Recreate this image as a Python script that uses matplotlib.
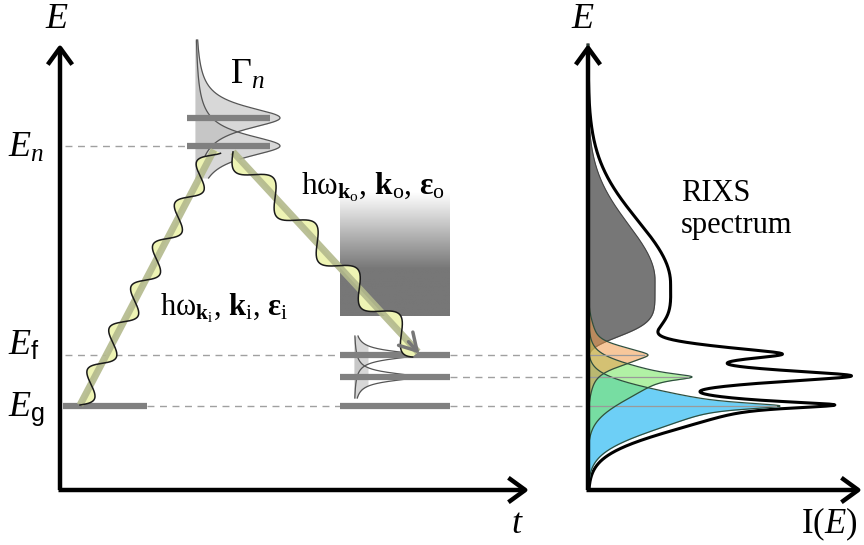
import numpy as np
import matplotlib
matplotlib.use("Agg")
import matplotlib.pyplot as plt
from matplotlib.patches import FancyArrowPatch
from matplotlib.colors import LinearSegmentedColormap

plt.rcParams["mathtext.fontset"] = "custom"
plt.rcParams["mathtext.rm"] = "Liberation Serif"
plt.rcParams["mathtext.it"] = "Liberation Serif:italic"
plt.rcParams["mathtext.bf"] = "Liberation Serif:bold"
plt.rcParams["mathtext.sf"] = "Liberation Sans"
plt.rcParams["font.family"] = ["Liberation Serif", "DejaVu Serif"]

# ---- energy levels (arbitrary units above the ground state) ----
E_ground = 0.0
E_low = 0.57          # low-lying excitation
E_final = 1.0         # final state E_f
E_inter = [5.1, 5.65] # intermediate (core-hole) states E_n

# ---- RIXS spectrum: inelastic peaks at the final-state energies ----
peak_energy = [E_final, E_low, E_ground]
peak_height = [48, 95, 192]
peak_w_up = [11, 17, 23]
peak_w_dn = [14, 32, 34]
peak_sharp = [0.2, 0.45, 0.45]
peak_tail = [12, 9, 0]
peak_colors = ["#f29a4a", "#7ee86a", "#6dcff6"]
peak_alpha = [0.55, 0.6, 1.0]

# measured envelope
envelope_height = [159, 254, 243]
envelope_w_up = [12, 12, 14]
envelope_w_dn = [10, 13, 36]
envelope_sharp = [0.3, 0.3, 0.45]
envelope_ws = [5.0, 5.0, 4.0]
fluor_center = 2.415   # broad fluorescence-like background
fluor_height = 67
env_fluor_height = 82

Y0, PX_PER_E = 406.0, 51.0
def ey(e):
    return Y0 - PX_PER_E * np.asarray(e)

fig = plt.figure(figsize=(8.64, 5.45), dpi=100)
ax = fig.add_axes([0, 0, 1, 1])
ax.set_xlim(0, 864)
ax.set_ylim(545, 0)
ax.axis("off")

GRAY = "#808080"
DASH = "#a0a0a0"

def arrow_axis(p0, p1):
    a = FancyArrowPatch(p0, p1, arrowstyle="->,head_length=0.55,head_width=0.4",
                        mutation_scale=22, lw=3.2, color="black",
                        shrinkA=0, shrinkB=0, zorder=10, capstyle="butt")
    ax.add_patch(a)

# ---------------- left panel: energy vs time ----------------
arrow_axis((60, 490), (60, 44))
arrow_axis((58.5, 490), (529, 490))

ax.plot([65, 190], [ey(E_inter[0])] * 2, ls=(0, (5, 4)), color=DASH, lw=1)
ax.plot([65, 340], [ey(E_final)] * 2, ls=(0, (5, 4)), color=DASH, lw=1)
ax.plot([147, 340], [ey(E_ground)] * 2, ls=(0, (5, 4)), color=DASH, lw=1)
for e in [E_final, E_low, E_ground]:
    ax.plot([450, 588], [ey(e)] * 2, ls=(0, (5, 4)), color=DASH, lw=1)

# continuum of outgoing photon energies
grad_y = np.linspace(0, 1, 200)
grad = np.clip(grad_y / 0.62, 0, 1)[:, None]
gcm = LinearSegmentedColormap.from_list("g", ["#ffffff", "#777777"])
ax.imshow(grad, extent=(340, 450, 316, 192), cmap=gcm, aspect="auto",
          vmin=0, vmax=1, zorder=1)

# intermediate-state Lorentzians (lifetime broadening Gamma_n)
yy = np.linspace(40, 178, 400)
for e in E_inter:
    y0 = ey(e)
    prof = 85 / (1 + ((yy - y0) / 14) ** 2)
    ax.fill_betweenx(yy, 195, 195 + prof, color="#b8b8b8", alpha=0.55, lw=0, zorder=2)
    ax.plot(195 + prof, yy, color="#555555", lw=0.9, zorder=3)

# final-state Lorentzians
yy2 = np.linspace(336, 398, 300)
for e in [E_final, E_low]:
    y0 = ey(e)
    prof = 62 / (1 + ((yy2 - y0) / 5) ** 2)
    ax.fill_betweenx(yy2, 354, 354 + np.minimum(prof, 14), color="#bdbdbd", alpha=0.6, lw=0, zorder=2)
    ax.plot(354 + prof, yy2, color="#555555", lw=0.9, zorder=3)

# level bars
ax.plot([63, 147], [ey(E_ground)] * 2, color=GRAY, lw=4.5, solid_capstyle="butt", zorder=4)
for e in E_inter:
    ax.plot([187, 270], [ey(e)] * 2, color=GRAY, lw=4.5, solid_capstyle="butt", zorder=4)
for e in [E_final, E_low, E_ground]:
    ax.plot([340, 450], [ey(e)] * 2, color=GRAY, lw=4.5, solid_capstyle="butt", zorder=4)

def photon(p0, p1, wavelength, amp, arrow=False):
    p0, p1 = np.array(p0, float), np.array(p1, float)
    d = p1 - p0
    L = np.hypot(*d)
    u = d / L
    n = np.array([-u[1], u[0]])
    s = np.linspace(0, L, 600)
    c = p0[None, :] + s[:, None] * u[None, :]
    w = c + (amp * np.sin(2 * np.pi * s / wavelength))[:, None] * n[None, :]
    poly = np.vstack([w, c[::-1]])
    ax.fill(poly[:, 0], poly[:, 1], color="#eef4b4", lw=0, zorder=5)
    ax.plot(c[:, 0], c[:, 1], color="#b3b98c", lw=5.0, alpha=0.9, zorder=6,
            solid_capstyle="butt")
    ax.plot(w[:, 0], w[:, 1], color="#1a1a1a", lw=1.1, zorder=7)
    if arrow:
        a = FancyArrowPatch(tuple(p1 - 14 * u), tuple(p1 + 2 * u),
                            arrowstyle="->,head_length=0.6,head_width=0.35",
                            mutation_scale=20, lw=2.5, color="#777777",
                            shrinkA=0, shrinkB=0, zorder=8)
        ax.add_patch(a)

photon((80, ey(E_ground) - 1), (214, ey(E_inter[0]) + 4), 47, 10)
photon((233, ey(E_inter[0]) + 6), (418, ey(E_final) - 3), 62, 12, arrow=True)

# labels
ax.text(57, 20, "$E$", fontsize=26, ha="center", va="center")
ax.text(8, ey(E_inter[0]) + 11, "$E_n$", fontsize=26, ha="left", va="baseline")
ax.text(8, ey(E_final) + 0, r"$E_\mathsf{f}$", fontsize=26, ha="left", va="baseline")
ax.text(8, ey(E_ground) + 10, r"$E_\mathsf{g}$", fontsize=26, ha="left", va="baseline")
ax.text(230, 84, r"$\Gamma_n$", fontsize=26, ha="left", va="baseline")
ax.text(160, 315, r"$\mathrm{h\omega}_{\mathbf{k}_\mathrm{i}}$, $\mathbf{k}_\mathrm{i}$, $\mathbf{ε}_\mathrm{i}$",
        fontsize=22, ha="left", va="baseline")
ax.text(301, 194, r"$\mathrm{h\omega}_{\mathbf{k}_\mathrm{o}}$, $\mathbf{k}_\mathrm{o}$, $\mathbf{ε}_\mathrm{o}$",
        fontsize=22.5, ha="left", va="baseline")
ax.text(517, 533, "$t$", fontsize=26, ha="center", va="baseline")

# ---------------- right panel: RIXS spectrum ----------------
X0 = 588.0
arrow_axis((X0, 490), (X0, 44))
arrow_axis((X0 - 1.5, 490), (862, 490))
ax.text(583, 20, "$E$", fontsize=26, ha="center", va="center")
ax.text(829, 533, r"$\mathrm{I}(E)$", fontsize=25, ha="center", va="baseline")
ax.text(681, 201, "RIXS", fontsize=22, ha="left", va="baseline")
ax.text(681, 233, "spectrum", fontsize=22, ha="left", va="baseline")

ys = np.linspace(45, 488, 1500)

def peak(y, y0, A, w_up, w_dn, frac=0.45, ws=4.0, tail=0.0, tail_w=32):
    d = y - y0
    w = np.where(d < 0, w_up, w_dn)
    core = A * (frac / (1 + (d / ws) ** 2) + (1 - frac) * np.exp(-(d / w) ** 2))
    return core + tail * np.exp(-(d / tail_w) ** 2)

def fluor(y, y0, A, s_up=78, s_dn=59, p=6):
    d = y - y0
    return A * np.where(d < 0, np.exp(-(d / s_up) ** 2), np.exp(-np.abs(d / s_dn) ** p))

# envelope of the whole spectrum (white halo + black line)
env = fluor(ys, ey(fluor_center), env_fluor_height, s_up=88, s_dn=68, p=4)
for e, A, wu, wd, fr, wsh in zip(peak_energy, envelope_height, envelope_w_up,
                                  envelope_w_dn, envelope_sharp, envelope_ws):
    env += peak(ys, ey(e) - 1, A, wu, wd, frac=fr, ws=wsh)
env = np.where(ys > 58, env, 0)
ax.plot(X0 + env, ys, color="white", lw=7, zorder=3)
ax.plot(X0 + env, ys, color="black", lw=2.2, zorder=4)

gray = fluor(ys, ey(fluor_center) - 3, fluor_height)
ax.fill_betweenx(ys, X0, X0 + gray, color="#777777", lw=0, zorder=5)
ax.plot(X0 + gray, ys, color="#444444", lw=0.8, zorder=5)

for i in [2, 1, 0]:
    prof = peak(ys, ey(peak_energy[i]), peak_height[i], peak_w_up[i], peak_w_dn[i],
                frac=peak_sharp[i], tail=peak_tail[i])
    tip = prof.max()
    ax.fill_betweenx(ys, X0, X0 + prof, color=peak_colors[i], alpha=peak_alpha[i], lw=0, zorder=6)
    ax.plot(X0 + prof, ys, color="#2f4f3f", lw=0.9, zorder=7)
    ax.plot([X0, X0 + tip - 4], [ey(peak_energy[i])] * 2, color="#9a9a9a", lw=0.9, zorder=7)

fig.savefig("out.png", dpi=100)
